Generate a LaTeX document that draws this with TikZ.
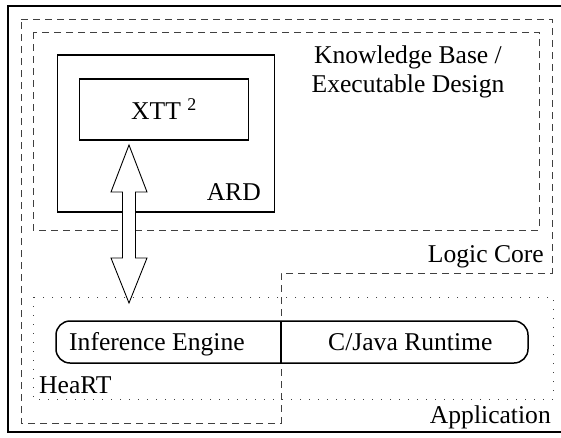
\documentclass[tikz,border=0pt]{standalone}
\usepackage{fontspec}
\setmainfont{Liberation Serif}
\begin{document}
\begin{tikzpicture}[x=1pt,y=-1pt,
  solidbox/.style={draw, line width=1.8pt, inner sep=0pt},
  dashbox/.style={draw=black!75, line width=1pt, dash pattern=on 7pt off 5pt},
  dotbox/.style={draw=black!75, line width=1pt, dash pattern=on 1pt off 8pt},
  lbl/.style={font=\fontsize{25.6}{29}\selectfont, inner sep=0pt},
  twoway/.style={draw, line width=0.9pt, fill=white, line join=miter}]
\useasboundingbox (0,0) rectangle (561,437);
\begin{scope}
\clip (0,0) rectangle (561,437);
% outer frame
\draw[line width=2.5pt] (8,6) rectangle (580,432);
% logic core (L-shaped dashed region)
\draw[dashbox] (21,19) -- (552,19) -- (552,273) -- (281,273) -- (281,423) -- (21,423) -- cycle;
% knowledge base
\draw[dashbox] (33,32) rectangle (539,230);
% HeaRT dotted box
\draw[dotbox] (33,297) rectangle (553,399);
% ARD box
\node[solidbox, minimum width=217pt, minimum height=157pt] (ard) at (166,133.5) {};
% XTT box
\node[solidbox, lbl, minimum width=169pt, minimum height=61pt] (xtt) at (164,109.5) {XTT \textsuperscript{2}};
% runtime rounded box
\draw[line width=1.5pt, rounded corners=14pt] (56,321) rectangle (528,363);
\coordinate (divtop) at (281,321);
\coordinate (divbot) at (281,363);
\draw[line width=1.5pt] (divtop) -- (divbot);
\node[lbl, anchor=base west] (ie) at (69,350) {Inference Engine};
\node[lbl, anchor=base west] (cj) at (328,350) {C/Java Runtime};
% labels
\node[lbl, anchor=base] (kb1) at (408,63) {Knowledge Base /};
\node[lbl, anchor=base] (kb2) at (408,92) {Executable Design};
\node[lbl, anchor=base east] (ardl) at (261,200) {ARD};
\node[lbl, anchor=base east] (lc) at (544,262) {Logic Core};
\node[lbl, anchor=base west] (heart) at (39,393) {HeaRT};
\node[lbl, anchor=base east] (app) at (551,423) {Application};
% double arrow between XTT and HeaRT
\coordinate (at) at (129,145);
\coordinate (ab) at (129,303);
\draw[twoway] (at) -- ++(18,47) -- ++(-11.5,0) -- ++(0,66) -- ++(11.5,0)
  -- (ab) -- ++(-18,-45) -- ++(11.5,0) -- ++(0,-66) -- ++(-11.5,0) -- cycle;
\end{scope}
\end{tikzpicture}
\end{document}
